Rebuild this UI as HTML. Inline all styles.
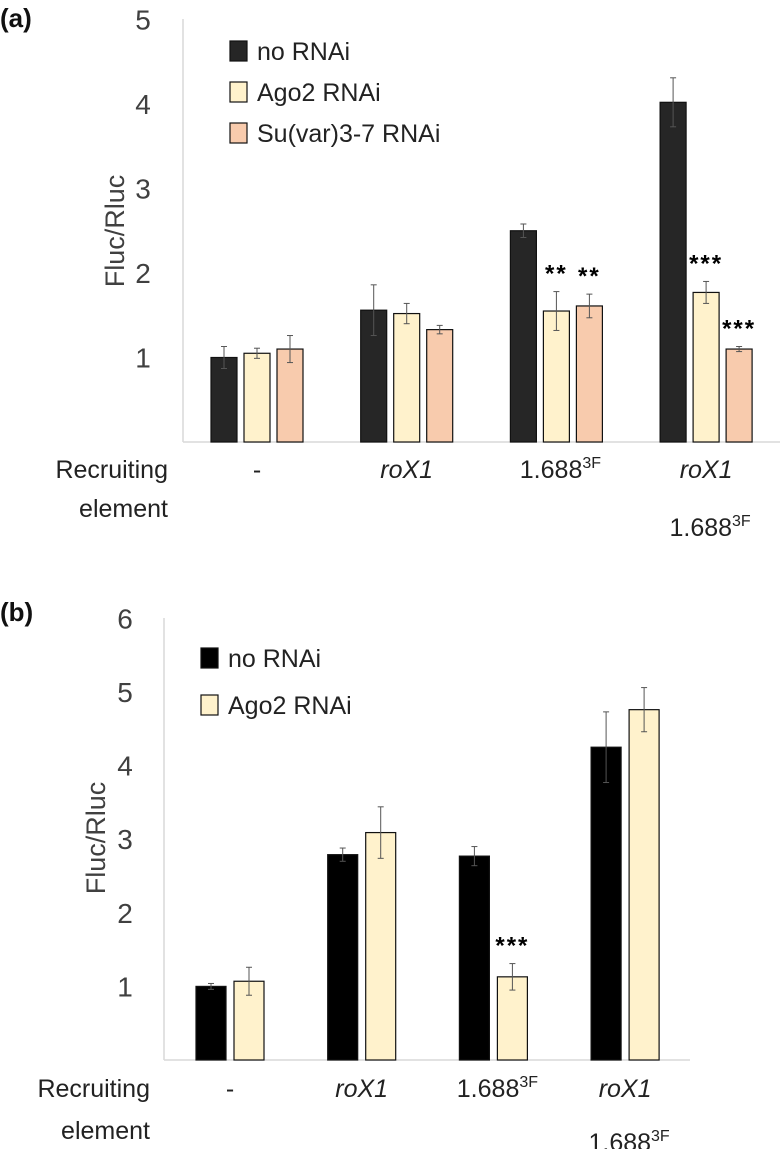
<!DOCTYPE html>
<html><head><meta charset="utf-8">
<style>
html,body{margin:0;padding:0;background:#fff;}
svg{display:block;font-family:"Liberation Sans",sans-serif;}
</style></head>
<body>
<svg id="fig" width="784" height="1149" viewBox="0 0 784 1149"></svg>
<script>
// Panel (a) data
const catsA = ["-", "roX1", "1.688", "roX1 1.688"];
const seriesNamesA = ["no RNAi", "Ago2 RNAi", "Su(var)3-7 RNAi"];
const noRnaiA = [1.0, 1.56, 2.50, 4.02];
const ago2A = [1.05, 1.52, 1.55, 1.77];
const suvarA = [1.10, 1.33, 1.61, 1.10];
const noRnaiErrA = [0.13, 0.30, 0.08, 0.29];
const ago2ErrA = [0.06, 0.12, 0.23, 0.13];
const suvarErrA = [0.16, 0.05, 0.14, 0.03];
const starsA = [["","",""],["","",""],["","**","**"],["","***","***"]];
const ticksA = [1,2,3,4,5];
// Panel (b) data
const seriesNamesB = ["no RNAi", "Ago2 RNAi"];
const noRnaiB = [1.0, 2.79, 2.77, 4.25];
const ago2B = [1.07, 3.09, 1.13, 4.76];
const noRnaiErrB = [0.04, 0.09, 0.13, 0.48];
const ago2ErrB = [0.19, 0.35, 0.18, 0.30];
const starsB = [["",""],["",""],["","***"],["",""]];
const ticksB = [1,2,3,4,5,6];

const NS = "http://www.w3.org/2000/svg";
const svg = document.getElementById("fig");
function mk(tag, attrs, parent, text){
  const e = document.createElementNS(NS, tag);
  for (const k in attrs) e.setAttribute(k, attrs[k]);
  if (text !== undefined) e.textContent = text;
  (parent||svg).appendChild(e);
  return e;
}

function panel(o){
  const g = mk("g", {});
  
  
  const y = v => o.y0 - v * o.unit;
  const ax = mk("line", {x1:o.ax, y1:o.axTop, x2:o.ax, y2:o.y0, stroke:"#d9d9d9", "stroke-width":1.5}, g);
  
  
  const bx = mk("line", {x1:o.ax, y1:o.y0, x2:o.axRight, y2:o.y0, stroke:"#d9d9d9", "stroke-width":1.5}, g);
  
  
  o.ticks.forEach(t => {
    const tl = mk("text", {x:o.tickX, y:y(t)+10, "text-anchor":"middle", "font-size":28, fill:"#404040"}, g, String(t));
    
    
  });
  const yt = mk("text", {x:0, y:0, transform:`translate(${o.titleX},${o.titleY}) rotate(-90)`, "text-anchor":"middle", "font-size":27, fill:"#404040"}, g, "Fluc/Rluc");
  
  
  const n = o.series.length;
  o.series.forEach((vals, si) => {
    vals.forEach((v, ci) => {
      const cx = o.c0 + ci * o.gap + (si - (n-1)/2) * o.step;
      const r = mk("rect", {x:cx - o.bw/2, y:y(v), width:o.bw, height:o.y0 - y(v), fill:o.colors[si], stroke:"#111", "stroke-width":1.2}, g);
      
      
      const e = o.errs[si][ci];
      const eg = mk("g", {stroke:"#555", "stroke-width":1}, g);
      
      
      mk("line", {x1:cx, x2:cx, y1:y(v+e), y2:y(v-e)}, eg);
      mk("line", {x1:cx-3, x2:cx+3, y1:y(v+e), y2:y(v+e)}, eg);
      mk("line", {x1:cx-3, x2:cx+3, y1:y(v-e), y2:y(v-e)}, eg);
      const s = o.stars[ci][si];
      if (s) {
        const st = mk("text", {x:cx, y:y(v+e)-10, "text-anchor":"middle", "font-size":24, "font-weight":"bold", fill:"#000", "letter-spacing":2}, g, s);
        
        
      }
    });
  });
  o.legendNames.forEach((nm, i) => {
    const ly = o.legY + i * o.legGap;
    const sq = mk("rect", {x:o.legX, y:ly-10, width:17, height:20, fill:o.colors[i], stroke:"#111", "stroke-width":1.2}, g);
    
    
    const lt = mk("text", {x:o.legX+27, y:ly+9, "font-size":25, fill:"#222"}, g, nm);
    
    
  });
  const r1 = mk("text", {x:o.recX, y:o.catY1, "text-anchor":"end", "font-size":25, fill:"#222"}, g, "Recruiting");
  
  
  const r2 = mk("text", {x:o.recX, y:o.catY2, "text-anchor":"end", "font-size":25, fill:"#222"}, g, "element");
  
  
  const cxs = [0,1,2,3].map(i => o.c0 + i*o.gap);
  function cat(x, yy, kind){
    let t;
    if (kind === "dash") t = mk("text", {x, y:yy, "text-anchor":"middle", "font-size":25, fill:"#222"}, g, "-");
    else if (kind === "rox") t = mk("text", {x, y:yy, "text-anchor":"middle", "font-size":25, "font-style":"italic", fill:"#222"}, g, "roX1");
    else {
      t = mk("text", {x, y:yy, "text-anchor":"middle", "font-size":25, fill:"#222"}, g);
      t.appendChild(document.createTextNode("1.688"));
      mk("tspan", {"font-size":16, dy:-10}, t, "3F");
    }
    
    
  }
  cat(cxs[0], o.catY1, "dash");
  cat(cxs[1], o.catY1, "rox");
  cat(cxs[2]+4, o.catY1, "num");
  cat(cxs[3], o.catY1, "rox");
  cat(cxs[3]+4, o.catY3, "num");
  const pl = mk("text", {x:0, y:o.panelY, "font-size":26, "font-weight":"bold", fill:"#111"}, g, o.panelLabel);
  
  
}

panel({
  name:"panel-a-chart", panelLabel:"(a)", panelY:27,
  y0:442, unit:84.5, ax:183, axTop:19, axRight:780,
  ticks:ticksA, tickX:143, titleX:124, titleY:231,
  series:[noRnaiA, ago2A, suvarA], errs:[noRnaiErrA, ago2ErrA, suvarErrA],
  keys:["no-rnai","ago2","suvar"], stars:starsA,
  colors:["#262626","#FFF2CC","#F8CBAD"],
  c0:257, gap:149.7, step:33, bw:26,
  legendNames:seriesNamesA, legX:230, legY:51, legGap:41,
  recX:168, catY1:478, catY2:517, catY3:536
});
panel({
  name:"panel-b-chart", panelLabel:"(b)", panelY:621,
  y0:1060, unit:73.6, ax:164, axTop:618, axRight:690,
  ticks:ticksB, tickX:125, titleX:105, titleY:838,
  series:[noRnaiB, ago2B], errs:[noRnaiErrB, ago2ErrB],
  keys:["no-rnai","ago2"], stars:starsB,
  colors:["#000000","#FFF2CC"],
  c0:230, gap:131.7, step:38, bw:30,
  legendNames:seriesNamesB, legX:201, legY:658, legGap:47,
  recX:150, catY1:1097, catY2:1139, catY3:1151
});
</script>
</body></html>
